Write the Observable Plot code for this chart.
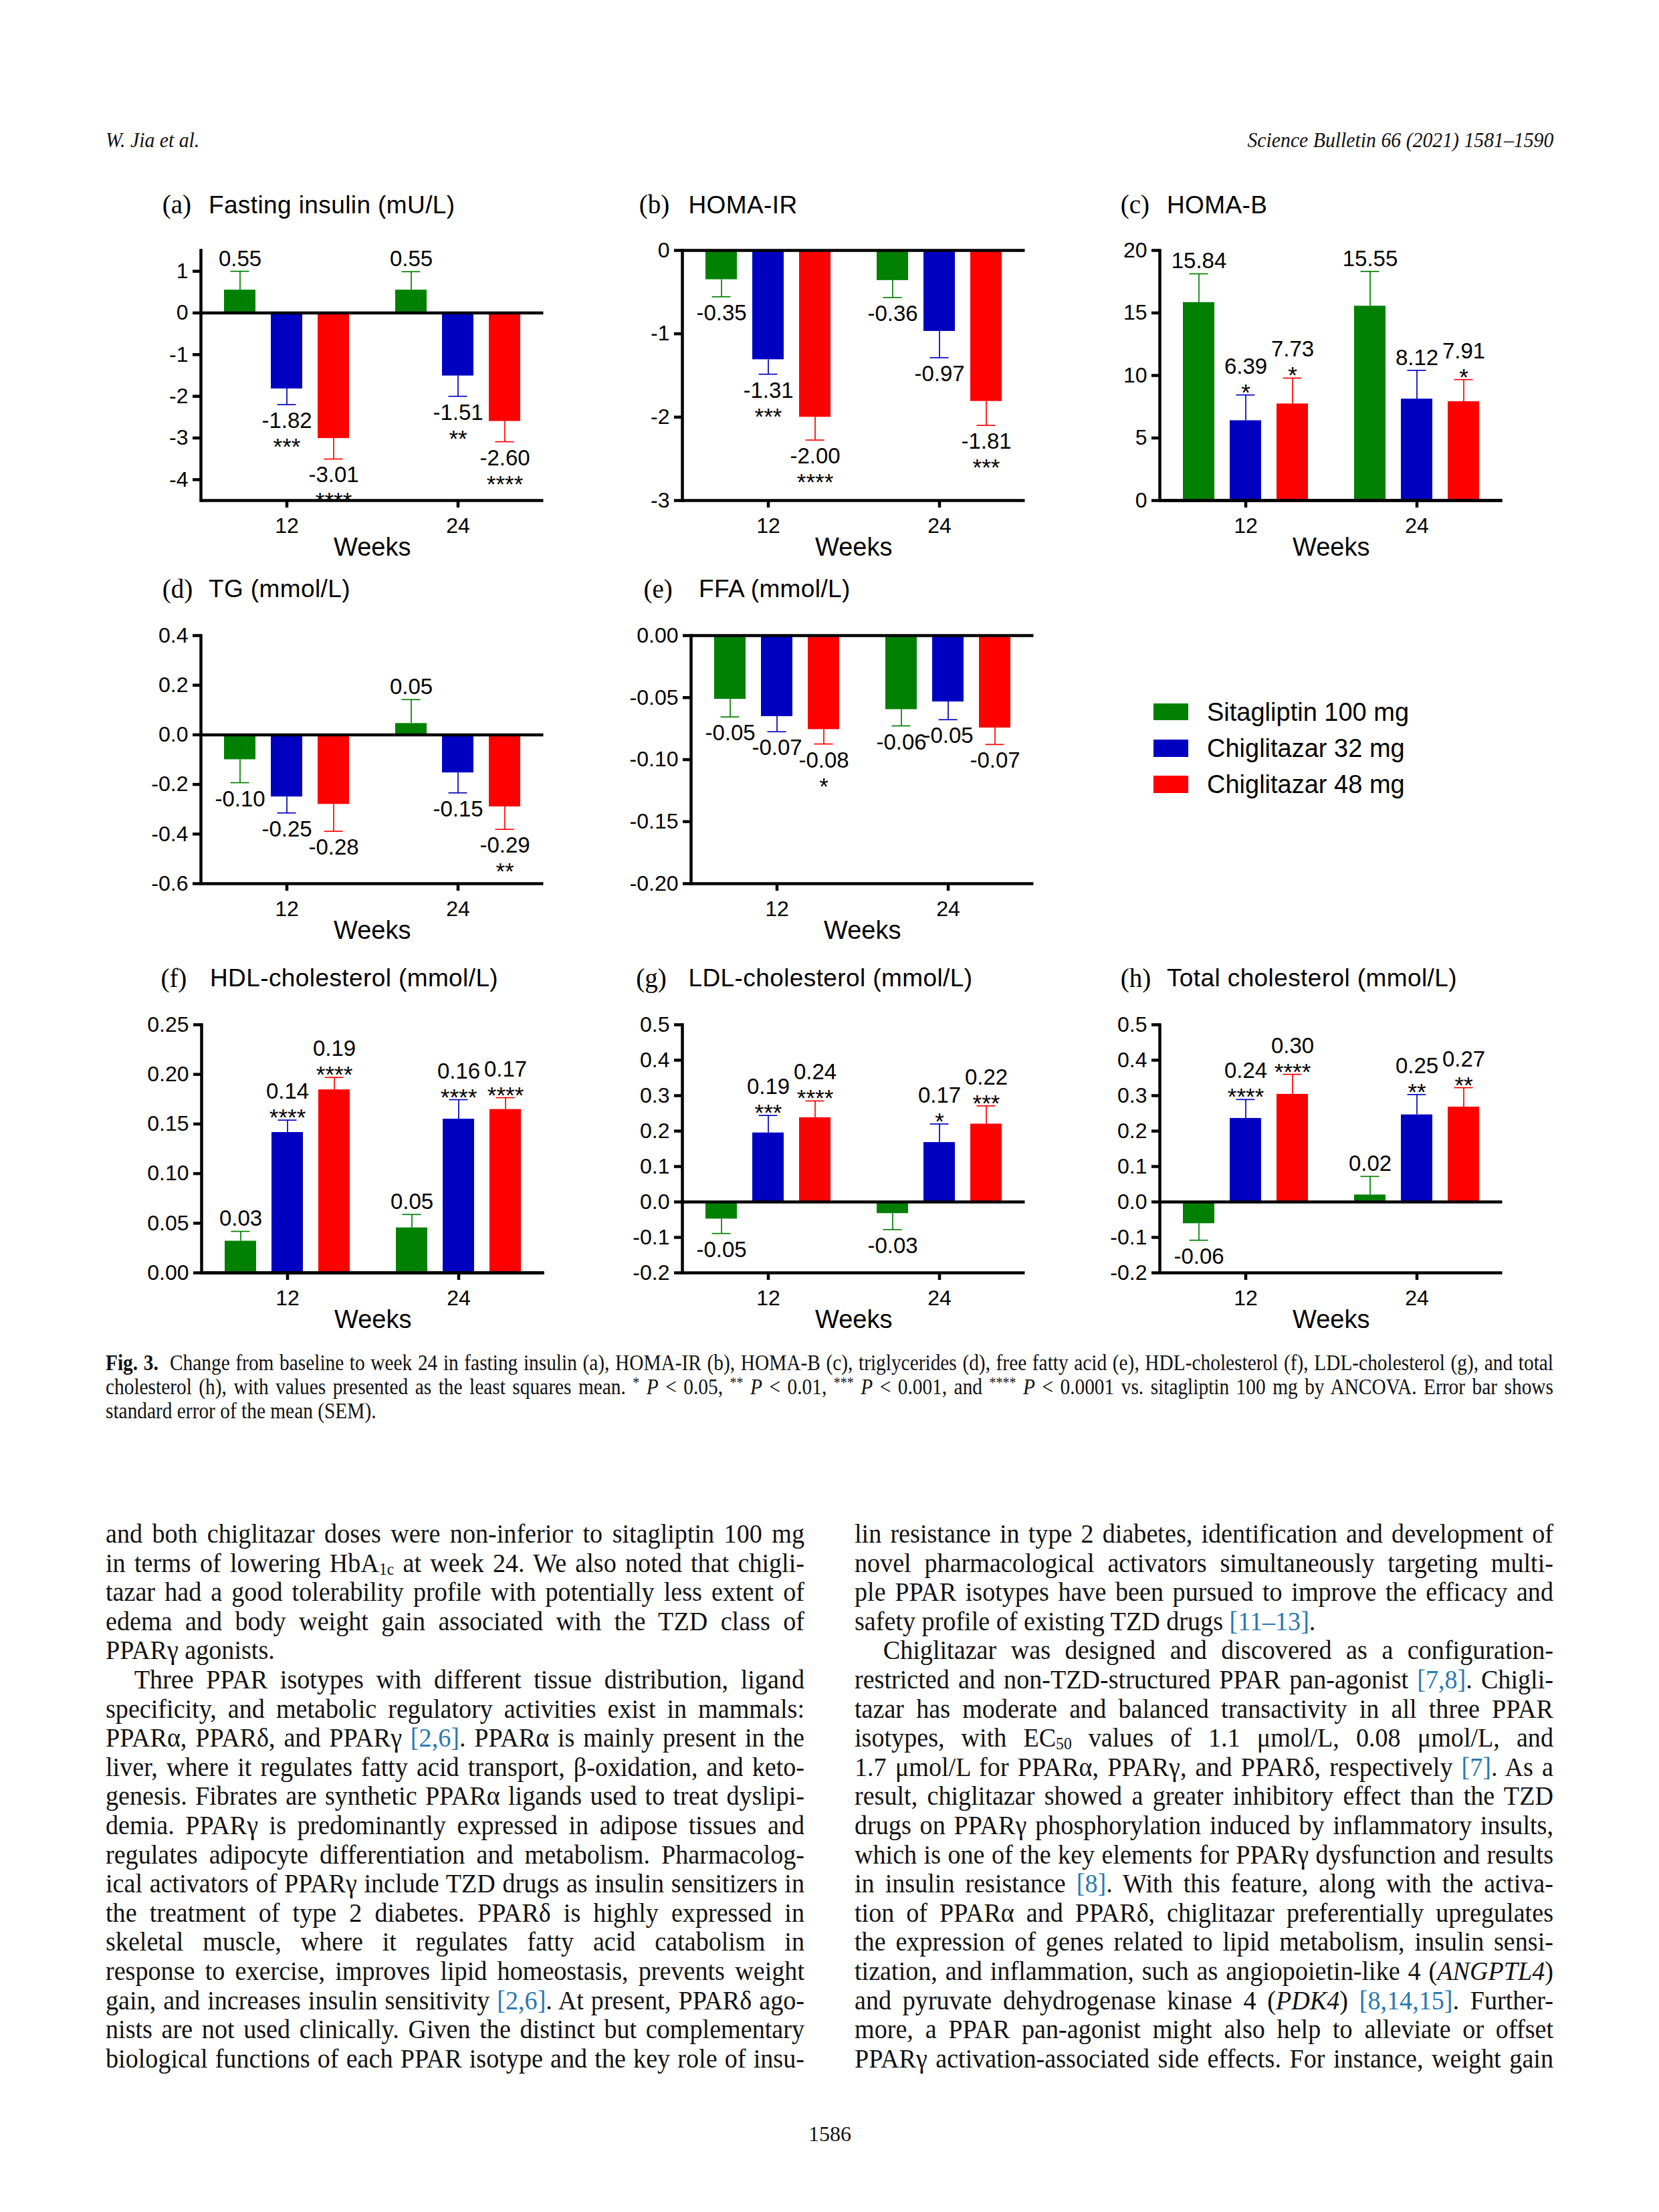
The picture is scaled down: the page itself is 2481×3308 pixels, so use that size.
<!DOCTYPE html>
<html>
<head>
<meta charset="utf-8">
<script src="https://cdn.jsdelivr.net/npm/d3@7"></script>
<script src="https://cdn.jsdelivr.net/npm/@observablehq/plot@0.6"></script>
<style>
  html, body { margin: 0; padding: 0; background: #fff; }
  body { width: 2481px; height: 3308px; position: relative; overflow: hidden; }
  .abs { position: absolute; white-space: nowrap; line-height: 1; }
  .sans { font-family: "Liberation Sans", Arial, sans-serif; color: #000; }
  .serif { font-family: "Liberation Serif", "Times New Roman", serif; color: #111; }
  .cond { transform-origin: 0 0; }
  .condR { transform-origin: 100% 0; }
  .line { text-align: justify; text-align-last: justify; white-space: nowrap; }
  .line.last { text-align-last: left; }
  .line.ind { text-indent: 46px; }
  .ref { color: #2a78b0; }
  sub { font-size: 0.62em; line-height: 0; vertical-align: -0.14em; }
  sup { font-size: 0.68em; line-height: 0; vertical-align: 0.45em; }
</style>
</head>
<body>
<script>
// ---------------- data ----------------
const weeks = ["12", "24"];
const series = ["Sitagliptin 100 mg", "Chiglitazar 32 mg", "Chiglitazar 48 mg"];
const seriesColors = ["#008000", "#0000c0", "#ff0000"];
// order of every array: week 12 (Sita, Chig32, Chig48), week 24 (Sita, Chig32, Chig48)

// (a) Fasting insulin (mU/L)
const insulinMean  = [0.55, -1.82, -3.01, 0.55, -1.51, -2.60];
const insulinSem   = [0.45, 0.38, 0.495, 0.44, 0.49, 0.49];
const insulinLabel = ["0.55", "-1.82", "-3.01", "0.55", "-1.51", "-2.60"];
const insulinStars = ["", "***", "****", "", "**", "****"];
const insulinTicks = [1, 0, -1, -2, -3, -4];

// (b) HOMA-IR
const homaIrMean  = [-0.35, -1.31, -2.00, -0.36, -0.97, -1.81];
const homaIrSem   = [0.206, 0.175, 0.275, 0.205, 0.317, 0.289];
const homaIrLabel = ["-0.35", "-1.31", "-2.00", "-0.36", "-0.97", "-1.81"];
const homaIrStars = ["", "***", "****", "", "", "***"];
const homaIrTicks = [0, -1, -2, -3];

// (c) HOMA-B
const homaBMean  = [15.84, 6.39, 7.73, 15.55, 8.12, 7.91];
const homaBSem   = [2.29, 2.05, 2.06, 2.77, 2.29, 1.76];
const homaBLabel = ["15.84", "6.39", "7.73", "15.55", "8.12", "7.91"];
const homaBStars = ["", "*", "*", "", "", "*"];
const homaBTicks = [0, 5, 10, 15, 20];

// (d) TG (mmol/L)
const tgMean  = [-0.10, -0.25, -0.28, 0.046, -0.153, -0.29];
const tgSem   = [0.093, 0.065, 0.109, 0.096, 0.081, 0.091];
const tgLabel = ["-0.10", "-0.25", "-0.28", "0.05", "-0.15", "-0.29"];
const tgStars = ["", "", "", "", "", "**"];
const tgTicks = [0.4, 0.2, 0.0, -0.2, -0.4, -0.6];

// (e) FFA (mmol/L)
const ffaMean  = [-0.0513, -0.0652, -0.0757, -0.0596, -0.0534, -0.0744];
const ffaSem   = [0.0143, 0.0123, 0.0117, 0.0132, 0.0144, 0.0134];
const ffaLabel = ["-0.05", "-0.07", "-0.08", "-0.06", "-0.05", "-0.07"];
const ffaStars = ["", "", "*", "", "", ""];
const ffaTicks = [0.00, -0.05, -0.10, -0.15, -0.20];

// (f) HDL-cholesterol (mmol/L)
const hdlMean  = [0.032, 0.1415, 0.1845, 0.0454, 0.155, 0.1647];
const hdlSem   = [0.0098, 0.0124, 0.0124, 0.0134, 0.0195, 0.0118];
const hdlLabel = ["0.03", "0.14", "0.19", "0.05", "0.16", "0.17"];
const hdlStars = ["", "****", "****", "", "****", "****"];
const hdlTicks = [0.00, 0.05, 0.10, 0.15, 0.20, 0.25];

// (g) LDL-cholesterol (mmol/L)
const ldlMean  = [-0.048, 0.195, 0.238, -0.0325, 0.168, 0.220];
const ldlSem   = [0.041, 0.049, 0.047, 0.0455, 0.052, 0.051];
const ldlLabel = ["-0.05", "0.19", "0.24", "-0.03", "0.17", "0.22"];
const ldlStars = ["", "***", "****", "", "*", "***"];
const ldlTicks = [0.5, 0.4, 0.3, 0.2, 0.1, 0.0, -0.1, -0.2];

// (h) Total cholesterol (mmol/L)
const tcMean  = [-0.061, 0.236, 0.304, 0.020, 0.246, 0.268];
const tcSem   = [0.047, 0.053, 0.056, 0.052, 0.057, 0.0545];
const tcLabel = ["-0.06", "0.24", "0.30", "0.02", "0.25", "0.27"];
const tcStars = ["", "****", "****", "", "**", "**"];
const tcTicks = [0.5, 0.4, 0.3, 0.2, 0.1, 0.0, -0.1, -0.2];

// ---------------- panels ----------------
const panels = [
  {tag: "(a)", title: "Fasting insulin (mU/L)", mean: insulinMean, sem: insulinSem, label: insulinLabel, stars: insulinStars, ticks: insulinTicks, domain: [-4.5, 1.5], dec: 0},
  {tag: "(b)", title: "HOMA-IR", mean: homaIrMean, sem: homaIrSem, label: homaIrLabel, stars: homaIrStars, ticks: homaIrTicks, domain: [-3, 0], dec: 0},
  {tag: "(c)", title: "HOMA-B", mean: homaBMean, sem: homaBSem, label: homaBLabel, stars: homaBStars, ticks: homaBTicks, domain: [0, 20], dec: 0},
  {tag: "(d)", title: "TG (mmol/L)", mean: tgMean, sem: tgSem, label: tgLabel, stars: tgStars, ticks: tgTicks, domain: [-0.6, 0.4], dec: 1},
  {tag: "(e)", title: "FFA (mmol/L)", mean: ffaMean, sem: ffaSem, label: ffaLabel, stars: ffaStars, ticks: ffaTicks, domain: [-0.2, 0], dec: 2},
  {tag: "(f)", title: "HDL-cholesterol (mmol/L)", mean: hdlMean, sem: hdlSem, label: hdlLabel, stars: hdlStars, ticks: hdlTicks, domain: [0, 0.25], dec: 2},
  {tag: "(g)", title: "LDL-cholesterol (mmol/L)", mean: ldlMean, sem: ldlSem, label: ldlLabel, stars: ldlStars, ticks: ldlTicks, domain: [-0.2, 0.5], dec: 1},
  {tag: "(h)", title: "Total cholesterol (mmol/L)", mean: tcMean, sem: tcSem, label: tcLabel, stars: tcStars, ticks: tcTicks, domain: [-0.2, 0.5], dec: 1}
];

// layout (page pixels): frame left/top, frame height, tag x, title x, title baseline
const layout = [
  {fl: 299.5,  ft: 374,  fh: 374, tx: 242.7,  hx: 311.9,  hb: 319},
  {fl: 1019.6, ft: 374,  fh: 374, tx: 955.8,  hx: 1029.5, hb: 319},
  {fl: 1733.8, ft: 374,  fh: 374, tx: 1675.7, hx: 1744.9, hb: 319},
  {fl: 299.5,  ft: 950,  fh: 371, tx: 242.7,  hx: 311.9,  hb: 893.6},
  {fl: 1033,   ft: 950,  fh: 371, tx: 962.5,  hx: 1045,   hb: 893.6},
  {fl: 300.7,  ft: 1532, fh: 371, tx: 240.4,  hx: 314,    hb: 1475.5},
  {fl: 1019.6, ft: 1532, fh: 371, tx: 951.3,  hx: 1029.5, hb: 1475.5},
  {fl: 1733.8, ft: 1532, fh: 371, tx: 1675.7, hx: 1744.9, hb: 1475.5}
];

const FW = 512.5, ML = 130, MR = 30, MT = 50, MB = 110;
const pitch = 70, capInset = 9.5, axisW = 4.5, errW = 1.7;

function addDiv(html, cls, style) {
  const d = document.createElement("div");
  d.className = cls;
  d.setAttribute("style", style);
  d.innerHTML = html;
  document.body.appendChild(d);
  return d;
}

panels.forEach((p, k) => {
  const L = layout[k];
  const rows = [];
  weeks.forEach((w, wi) => series.forEach((s, si) => {
    const i = wi * series.length + si;
    const m = p.mean[i], e = p.sem[i];
    rows.push({week: w, si, mean: m, cap: m >= 0 ? m + e : m - e, label: p.label[i], stars: p.stars[i], up: m >= 0});
  }));

  const marks = [];
  series.forEach((s, si) => {
    marks.push(Plot.barY(rows.filter(r => r.si === si), {
      x: "week", y: "mean", fill: seriesColors[si],
      insetLeft: si * pitch, insetRight: (series.length - 1 - si) * pitch
    }));
  });
  marks.push(Plot.ruleY([p.domain[0], 0], {strokeWidth: axisW}));
  marks.push(Plot.frame({anchor: "left", strokeWidth: axisW}));
  marks.push(Plot.axisY({ticks: p.ticks, tickFormat: d => d.toFixed(p.dec), tickSize: 12, tickPadding: 7, fontSize: 32, strokeWidth: axisW, label: null}));
  marks.push(Plot.axisX({tickSize: 11, tickPadding: 15, fontSize: 32, strokeWidth: axisW, label: null}));
  marks.push(Plot.text(["Weeks"], {frameAnchor: "bottom", dy: 82, lineAnchor: "bottom", fontSize: 38}));

  series.forEach((s, si) => {
    const d = rows.filter(r => r.si === si);
    const c = seriesColors[si];
    const off = (si - 1) * pitch;
    marks.push(Plot.ruleX(d, {x: "week", y1: "mean", y2: "cap", stroke: c, strokeWidth: errW, dx: off}));
    marks.push(Plot.tickY(d, {x: "week", y: "cap", stroke: c, strokeWidth: errW,
      insetLeft: si * pitch + capInset, insetRight: (series.length - 1 - si) * pitch + capInset}));
    const common = {x: "week", y: "cap", dx: off, lineAnchor: "bottom", fill: "#000"};
    marks.push(Plot.text(d, {...common, filter: r => r.up && !r.stars, text: "label", dy: -8, fontSize: 33}));
    marks.push(Plot.text(d, {...common, filter: r => r.up && r.stars, text: "label", dy: -32, fontSize: 33}));
    marks.push(Plot.text(d, {...common, filter: r => r.up && r.stars, text: "stars", dy: 8, fontSize: 35}));
    marks.push(Plot.text(d, {...common, filter: r => !r.up, text: "label", dy: 35, fontSize: 33}));
    marks.push(Plot.text(d, {...common, filter: r => !r.up && r.stars, text: "stars", dy: 75, fontSize: 35}));
  });

  const chart = Plot.plot({
    width: ML + FW + MR, height: MT + L.fh + MB,
    marginLeft: ML, marginRight: MR, marginTop: MT, marginBottom: MB,
    x: {domain: weeks, paddingInner: 0.27, paddingOuter: 0.135, label: null},
    y: {domain: p.domain, label: null},
    style: {fontFamily: "'Liberation Sans', Arial, sans-serif", background: "transparent", color: "#000", overflow: "visible"},
    marks
  });
  const holder = addDiv("", "abs", `left:${L.fl - ML}px; top:${L.ft - MT}px;`);
  holder.appendChild(chart);

  // panel tag and title
  addDiv(p.tag, "abs serif", `left:${L.tx}px; top:${L.hb - 0.8375 * 39}px; font-size:39px; color:#000;`);
  addDiv(p.title, "abs sans", `left:${L.hx}px; top:${L.hb - 0.8465 * 37}px; font-size:37px; letter-spacing:0.4px;`);
});

// legend
series.forEach((s, i) => {
  const top = 1051.7 + i * 54.2;
  addDiv("", "abs", `left:1724.8px; top:${top}px; width:52.7px; height:25.7px; background:${seriesColors[i]};`);
  addDiv(s, "abs sans", `left:1805px; top:${top + 26.5 - 0.8465 * 38}px; font-size:38px;`);
});

// running header
addDiv("W. Jia et al.", "abs serif cond", "left:158px; top:193px; font-size:32px; font-style:italic; transform:scaleX(0.93);");
addDiv("Science Bulletin 66 (2021) 1581–1590", "abs serif condR", "right:158px; top:193px; font-size:32px; font-style:italic; transform:scaleX(0.93);");

// caption
const captionLines = [
  "<b>Fig. 3.</b>&nbsp; Change from baseline to week 24 in fasting insulin (a), HOMA-IR (b), HOMA-B (c), triglycerides (d), free fatty acid (e), HDL-cholesterol (f), LDL-cholesterol (g), and total",
  "cholesterol (h), with values presented as the least squares mean. <sup>*</sup> <i>P</i> &lt; 0.05, <sup>**</sup> <i>P</i> &lt; 0.01, <sup>***</sup> <i>P</i> &lt; 0.001, and <sup>****</sup> <i>P</i> &lt; 0.0001 vs. sitagliptin 100 mg by ANCOVA. Error bar shows",
  "standard error of the mean (SEM)."
];
function block(lines, left, top, width, fs, s, lh, lastIdx, indIdx) {
  const html = lines.map((t, i) => {
    let c = "line";
    if (lastIdx.includes(i)) c += " last";
    if (indIdx.includes(i)) c += " ind";
    return `<div class="${c}" style="height:${lh}px; line-height:${lh}px;">${t}</div>`;
  }).join("");
  addDiv(html, "abs serif cond", `left:${left}px; top:${top}px; width:${width / s}px; font-size:${fs}px; line-height:${lh}px; white-space:normal; transform:scaleX(${s});`);
}
block(captionLines, 158, 2020, 2165, 33, 0.89, 36, [2], []);

const leftCol = [
  "and both chiglitazar doses were non-inferior to sitagliptin 100 mg",
  "in terms of lowering HbA<sub>1c</sub> at week 24. We also noted that chigli-",
  "tazar had a good tolerability profile with potentially less extent of",
  "edema and body weight gain associated with the TZD class of",
  "PPARγ agonists.",
  "Three PPAR isotypes with different tissue distribution, ligand",
  "specificity, and metabolic regulatory activities exist in mammals:",
  "PPARα, PPARδ, and PPARγ <span class=\"ref\">[2,6]</span>. PPARα is mainly present in the",
  "liver, where it regulates fatty acid transport, β-oxidation, and keto-",
  "genesis. Fibrates are synthetic PPARα ligands used to treat dyslipi-",
  "demia. PPARγ is predominantly expressed in adipose tissues and",
  "regulates adipocyte differentiation and metabolism. Pharmacolog-",
  "ical activators of PPARγ include TZD drugs as insulin sensitizers in",
  "the treatment of type 2 diabetes. PPARδ is highly expressed in",
  "skeletal muscle, where it regulates fatty acid catabolism in",
  "response to exercise, improves lipid homeostasis, prevents weight",
  "gain, and increases insulin sensitivity <span class=\"ref\">[2,6]</span>. At present, PPARδ ago-",
  "nists are not used clinically. Given the distinct but complementary",
  "biological functions of each PPAR isotype and the key role of insu-"
];
const rightCol = [
  "lin resistance in type 2 diabetes, identification and development of",
  "novel pharmacological activators simultaneously targeting multi-",
  "ple PPAR isotypes have been pursued to improve the efficacy and",
  "safety profile of existing TZD drugs <span class=\"ref\">[11–13]</span>.",
  "Chiglitazar was designed and discovered as a configuration-",
  "restricted and non-TZD-structured PPAR pan-agonist <span class=\"ref\">[7,8]</span>. Chigli-",
  "tazar has moderate and balanced transactivity in all three PPAR",
  "isotypes, with EC<sub>50</sub> values of 1.1 μmol/L, 0.08 μmol/L, and",
  "1.7 μmol/L for PPARα, PPARγ, and PPARδ, respectively <span class=\"ref\">[7]</span>. As a",
  "result, chiglitazar showed a greater inhibitory effect than the TZD",
  "drugs on PPARγ phosphorylation induced by inflammatory insults,",
  "which is one of the key elements for PPARγ dysfunction and results",
  "in insulin resistance <span class=\"ref\">[8]</span>. With this feature, along with the activa-",
  "tion of PPARα and PPARδ, chiglitazar preferentially upregulates",
  "the expression of genes related to lipid metabolism, insulin sensi-",
  "tization, and inflammation, such as angiopoietin-like 4 (<i>ANGPTL4</i>)",
  "and pyruvate dehydrogenase kinase 4 (<i>PDK4</i>) <span class=\"ref\">[8,14,15]</span>. Further-",
  "more, a PPAR pan-agonist might also help to alleviate or offset",
  "PPARγ activation-associated side effects. For instance, weight gain"
];
block(leftCol, 158, 2272, 1045, 41, 0.93, 43.6, [4], [5]);
block(rightCol, 1278, 2272, 1045, 41, 0.93, 43.6, [3], [4]);

// page number
addDiv("1586", "abs serif", "left:1209px; top:3175px; font-size:32px;");
</script>
</body>
</html>
